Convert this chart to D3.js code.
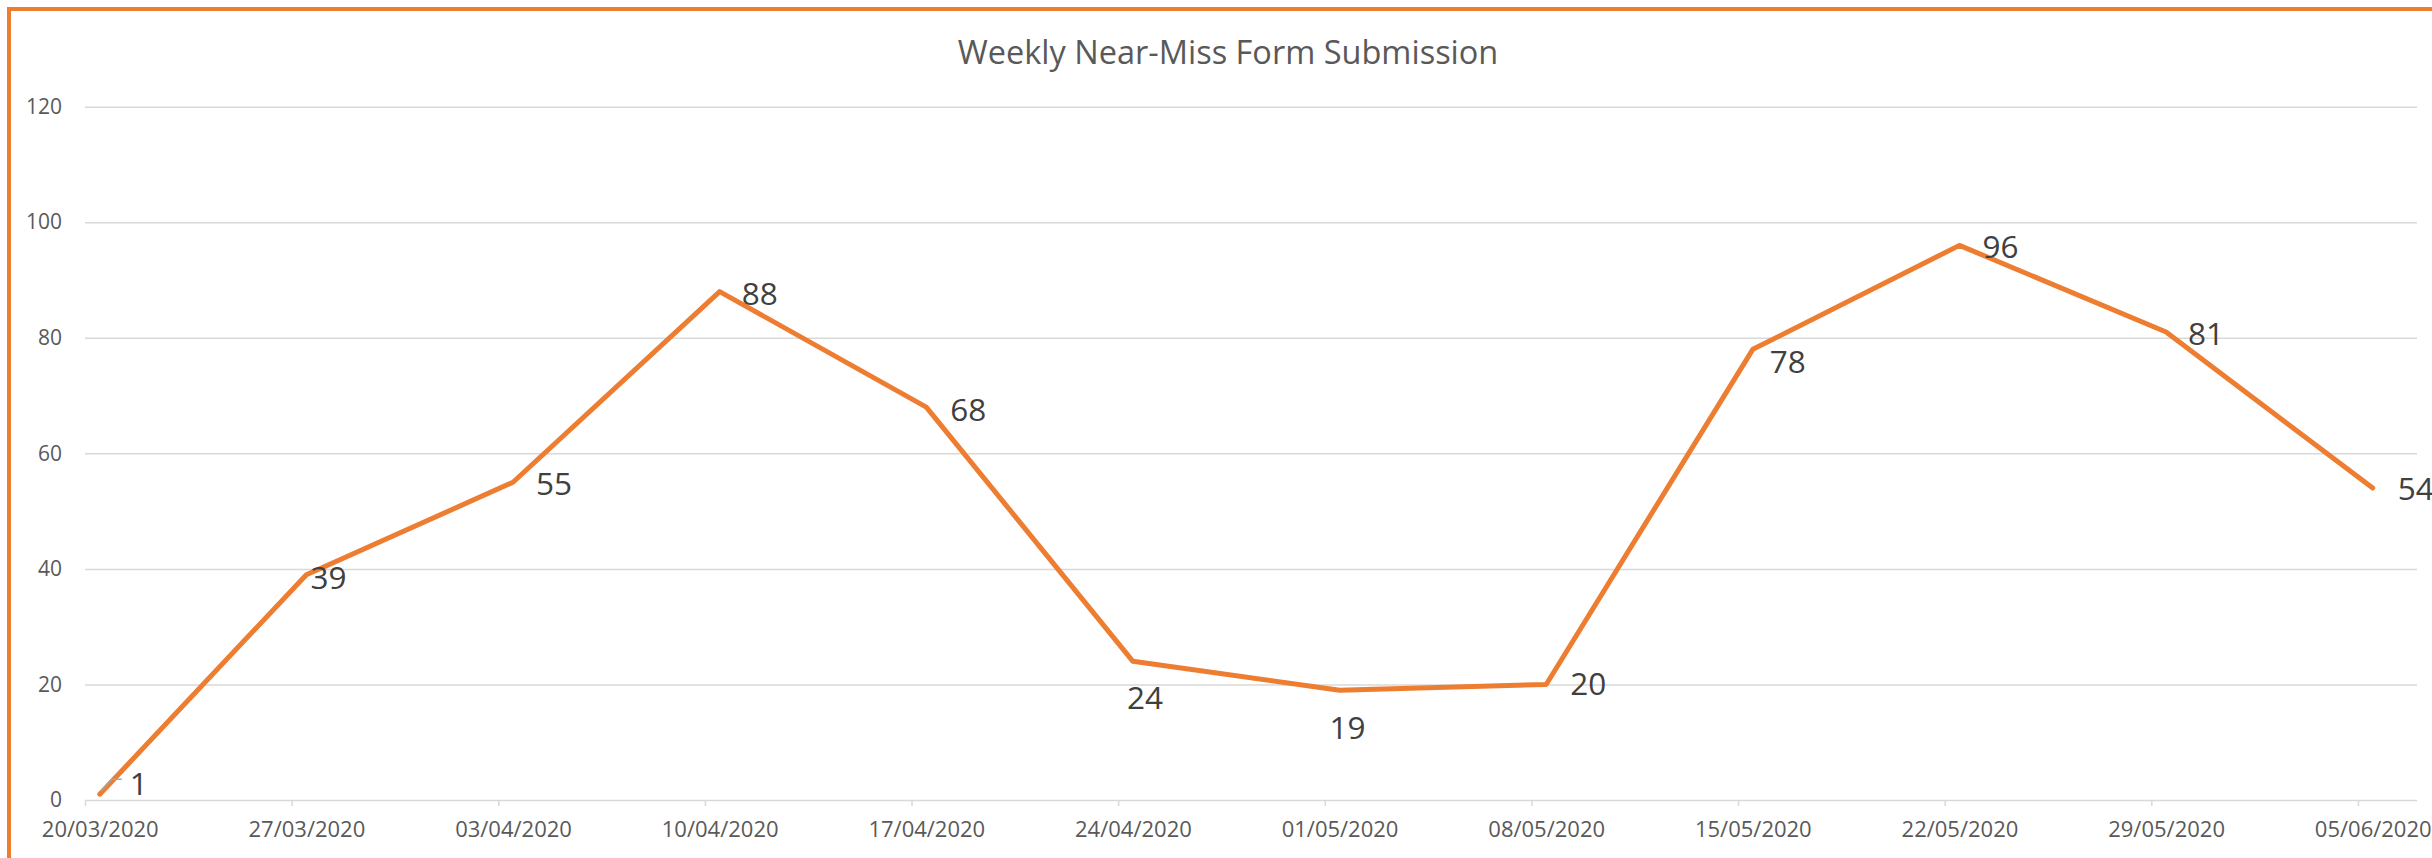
<!DOCTYPE html>
<html><head><meta charset="utf-8">
<script src="https://cdn.jsdelivr.net/npm/d3@7"></script>
<style>html,body{margin:0;padding:0;background:#fff;overflow:hidden}</style>
</head><body>
<svg id="chart" width="2432" height="858"></svg>
<script>
const chartTitle = "Weekly Near-Miss Form Submission";
const weeks = ["20/03/2020","27/03/2020","03/04/2020","10/04/2020","17/04/2020","24/04/2020",
               "01/05/2020","08/05/2020","15/05/2020","22/05/2020","29/05/2020","05/06/2020"];
const submissions = [1, 39, 55, 88, 68, 24, 19, 20, 78, 96, 81, 54];
const yTicks = [0, 20, 40, 60, 80, 100, 120];
const axisEnd = "07/06/2020";
// label placement offsets (px) relative to each point
const labelOffsets = [[39,-12],[22,2],[41,0],[40,1],[42,1],[12,35],[8,36],[42,-2],[35,11],[41,0],[40,0],[43,-1]];

const W = 2432, H = 858;
const plot = {left: 85, right: 2417, top: 106.7, bottom: 800};
const font = "'Open Sans', 'Noto Sans', sans-serif";
const orange = "#ED7D31", grid = "#d9d9d9";

const svg = d3.select("#chart");
svg.append("rect").attr("x",0).attr("y",0).attr("width",W).attr("height",H).attr("fill","#fff");
// chart border (only left and top visible)
svg.append("rect").attr("x",9).attr("y",9).attr("width",W+20).attr("height",H+20)
   .attr("fill","none").attr("stroke",orange).attr("stroke-width",4);

const parse = d3.utcParse("%d/%m/%Y");
const fmt = d3.utcFormat("%d/%m/%Y");
const dates = weeks.map(parse);
const halfDay = 12*3600*1000;
const mid = d => new Date(d.getTime() + halfDay);

const x = d3.scaleUtc().domain([dates[0], parse(axisEnd)]).range([plot.left, plot.right]);
const y = d3.scaleLinear().domain([0, 120]).range([plot.bottom, plot.top]);

// title
svg.append("text").attr("x", 1228).attr("y", 64).attr("text-anchor","middle")
   .attr("font-family", font).attr("font-size", 32.5).attr("fill", "#595959").text(chartTitle);

// y gridlines + labels
const yAxis = svg.append("g").attr("transform", `translate(${plot.left},0)`)
  .call(d3.axisLeft(y).tickValues(yTicks).tickSize(-(plot.right-plot.left)).tickPadding(23));
yAxis.select(".domain").remove();
yAxis.selectAll(".tick line").attr("stroke", grid).attr("stroke-width", 1.5);
yAxis.selectAll(".tick text").attr("font-family", font).attr("font-size", 21).attr("fill", "#595959");

// x tick marks
const xTicks = svg.append("g").attr("transform", `translate(0,${plot.bottom})`)
  .call(d3.axisBottom(x).tickValues(dates).tickSize(6).tickFormat(""));
xTicks.select(".domain").remove();
xTicks.selectAll(".tick line").attr("stroke", grid).attr("stroke-width", 1.5);

// x labels (centered on each day)
const xLabels = svg.append("g").attr("transform", `translate(0,${plot.bottom})`)
  .call(d3.axisBottom(x).tickValues(dates.map(mid)).tickSize(0).tickPadding(21).tickFormat(fmt));
xLabels.select(".domain").remove();
xLabels.selectAll(".tick text").attr("font-family", font).attr("font-size", 22).attr("fill", "#595959");

// line
const pts = dates.map((d,i) => ({d: mid(d), v: submissions[i], i}));
svg.append("path").datum(pts)
  .attr("d", d3.line().x(p => x(p.d)).y(p => y(p.v)))
  .attr("fill","none").attr("stroke", orange).attr("stroke-width", 5)
  .attr("stroke-linejoin","round").attr("stroke-linecap","round");

// leader line for first label
const p0 = pts[0];
svg.append("path")
  .attr("d", `M${x(p0.d)+1},${y(p0.v)-3} L${x(p0.d)+12},${y(p0.v)-15} L${x(p0.d)+22},${y(p0.v)-15}`)
  .attr("fill","none").attr("stroke","#a6a6a6").attr("stroke-width",1.5);

// data labels
svg.append("g").selectAll("text").data(pts).join("text")
  .attr("x", p => x(p.d) + labelOffsets[p.i][0])
  .attr("y", p => y(p.v) + labelOffsets[p.i][1])
  .attr("text-anchor","middle").attr("dominant-baseline","central")
  .attr("font-family", font).attr("font-size", 31.5).attr("fill", "#404040")
  .text(p => p.v);
</script>
</body></html>
